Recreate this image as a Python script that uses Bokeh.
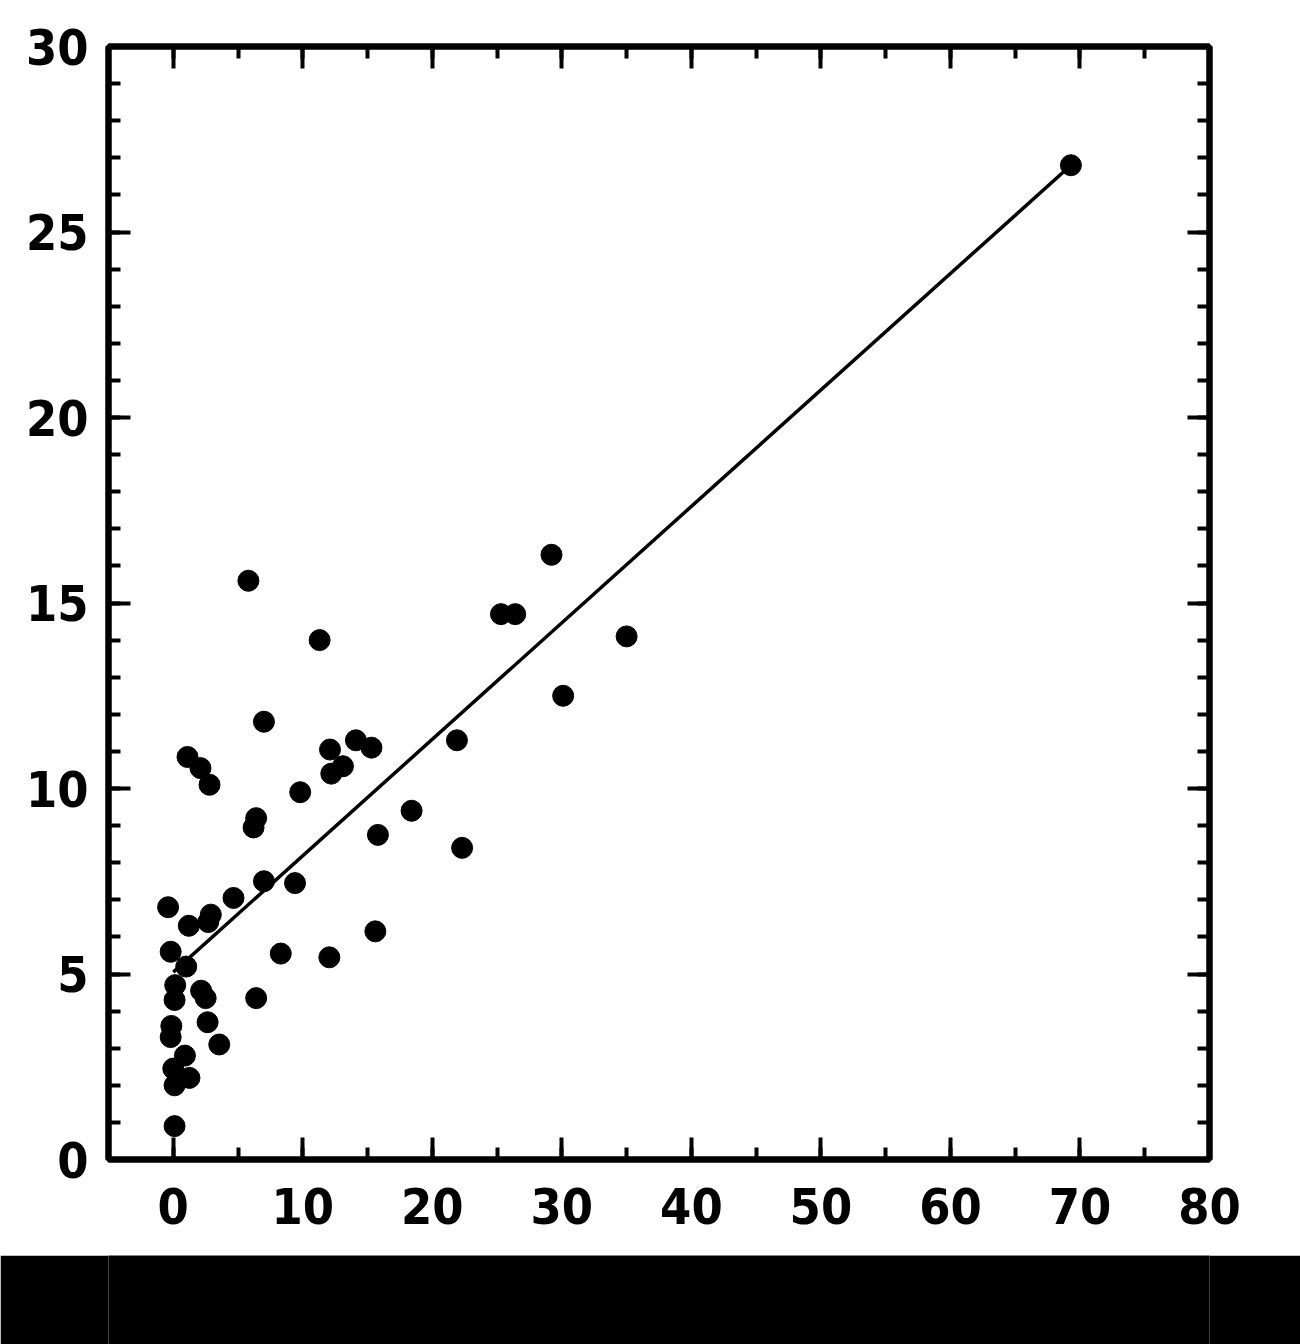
from bokeh.plotting import figure
from bokeh.models import LinearAxis, SingleIntervalTicker, Range1d, ColumnDataSource
from bokeh.layouts import column
from bokeh.embed import file_html
from bokeh.resources import INLINE

# data
x_vals = [5.8, 29.2, 25.3, 26.4, 11.3, 35.0, 30.1, 7.0, 21.9,
          12.1, 14.1, 15.3, 13.1, 12.2, 1.1, 2.1, 2.8, 9.8,
          6.4, 6.2, 18.4, 15.8, 22.3,
          -0.4, 1.2, 2.9, 2.7, 4.65, 7.0, 9.4, 15.6, 8.3, 12.05,
          -0.2, 1.0, 0.15, 0.1, 2.15, 2.5, 6.4,
          -0.15, -0.2, 2.65, 3.55, 0.9, 0.0, 1.25, 0.1, 0.1,
          69.3]
y_vals = [15.6, 16.3, 14.7, 14.7, 14.0, 14.1, 12.5, 11.8, 11.3,
          11.05, 11.3, 11.1, 10.6, 10.4, 10.85, 10.55, 10.1, 9.9,
          9.2, 8.95, 9.4, 8.75, 8.4,
          6.8, 6.3, 6.6, 6.4, 7.05, 7.5, 7.45, 6.15, 5.55, 5.45,
          5.6, 5.2, 4.7, 4.3, 4.55, 4.35, 4.35,
          3.6, 3.3, 3.7, 3.1, 2.8, 2.45, 2.2, 2.0, 0.9,
          26.8]
line_x = [0.0, 69.3]
line_y = [5.05, 26.8]
x_ticks_interval = 10
y_ticks_interval = 5

FONT = "'Liberation Sans Narrow', 'DejaVu Sans Condensed', 'Liberation Sans', sans-serif"

W = 1300
p = figure(width=W, height=1255, output_backend="svg", toolbar_location=None,
           x_range=Range1d(-5, 80), y_range=Range1d(0, 30),
           x_axis_location=None, y_axis_location=None,
           min_border_left=108, min_border_right=W - 108 - 1101,
           min_border_top=46, min_border_bottom=96)
p.xgrid.visible = False
p.ygrid.visible = False
p.outline_line_color = "black"
p.outline_line_width = 6
p.background_fill_color = "white"
p.border_fill_color = "white"


def make_axis(kind, show_labels):
    if kind == "x":
        ax = LinearAxis(ticker=SingleIntervalTicker(interval=x_ticks_interval, num_minor_ticks=2))
    else:
        ax = LinearAxis(ticker=SingleIntervalTicker(interval=y_ticks_interval, num_minor_ticks=5))
    ax.axis_line_color = "black"
    ax.axis_line_width = 6
    ax.major_tick_in = 22
    ax.major_tick_out = 0
    ax.minor_tick_in = 12
    ax.minor_tick_out = 0
    ax.major_tick_line_width = 4
    ax.minor_tick_line_width = 4
    ax.major_tick_line_color = "black"
    ax.minor_tick_line_color = "black"
    ax.major_label_text_font = FONT
    ax.major_label_text_font_style = "bold"
    ax.major_label_text_font_size = "50px"
    ax.major_label_text_color = "black"
    ax.major_label_standoff = 28 if kind == "x" else 20
    if not show_labels:
        ax.major_label_text_color = None
        ax.major_label_text_font_size = "0px"
    return ax


p.add_layout(make_axis("x", True), "below")
p.add_layout(make_axis("x", False), "above")
p.add_layout(make_axis("y", True), "left")
p.add_layout(make_axis("y", False), "right")

p.line(line_x, line_y, line_color="black", line_width=3.5)
src = ColumnDataSource(dict(x=x_vals, y=y_vals))
p.scatter("x", "y", source=src, size=21, fill_color="black", line_color="black")

band = figure(width=W, height=89, output_backend="svg", toolbar_location=None,
              x_axis_location=None, y_axis_location=None,
              min_border=0, background_fill_color="black", border_fill_color="black",
              outline_line_color=None)
band.xgrid.visible = False
band.ygrid.visible = False
band.scatter([0], [0], size=0, alpha=0)

layout = column(p, band, spacing=0)
open("out.html", "w").write(file_html(layout, INLINE))
